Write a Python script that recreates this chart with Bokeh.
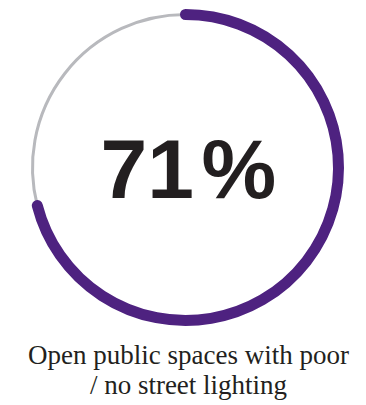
import math
from bokeh.plotting import figure
from bokeh.models import Range1d
from bokeh.core.properties import value
from bokeh.embed import file_html
from bokeh.resources import INLINE

# Data
share_pct = [71]
value_label = ["71"]
unit_label = ["%"]
caption_lines = ["Open public spaces with poor", "/ no street lighting"]

W, H = 366, 405
p = figure(width=W, height=H, output_backend="svg", toolbar_location=None,
           x_range=Range1d(0, W), y_range=Range1d(0, H),
           min_border=0)
p.axis.visible = False
p.grid.visible = False
p.outline_line_color = None
p.background_fill_color = None
p.border_fill_color = None

cx, cy, r = 185, 405 - 167, 153
start = math.pi / 2
end = start - share_pct[0] / 100 * 2 * math.pi

p.arc(x=[cx], y=[cy], radius=r, radius_units="screen", start_angle=start, end_angle=end,
      direction="anticlock", line_color="#b8b9bd", line_width=3)
p.arc(x=[cx], y=[cy], radius=r, radius_units="screen", start_angle=start, end_angle=end,
      direction="clock", line_color="#4e2280", line_width=11, line_cap="round")

big_y = 405 - 168
p.text(x=[100], y=[big_y], text=value_label, text_align="left",
       text_baseline="alphabetic", text_font=value("Liberation Sans"),
       text_font_style="bold", text_font_size="84px", text_color="#231f20")
p.text(x=[201], y=[big_y], text=unit_label, text_align="left",
       text_baseline="alphabetic", text_font=value("Liberation Sans"),
       text_font_style="bold", text_font_size="84px", text_color="#231f20")

p.text(x=[188, 188], y=[405 - 354, 405 - 384], text=caption_lines, text_align="center",
       text_baseline="alphabetic", text_font=value("Liberation Serif"),
       text_font_size="27px", text_color="#231f20")

open("out.html", "w").write(file_html(p, INLINE))
